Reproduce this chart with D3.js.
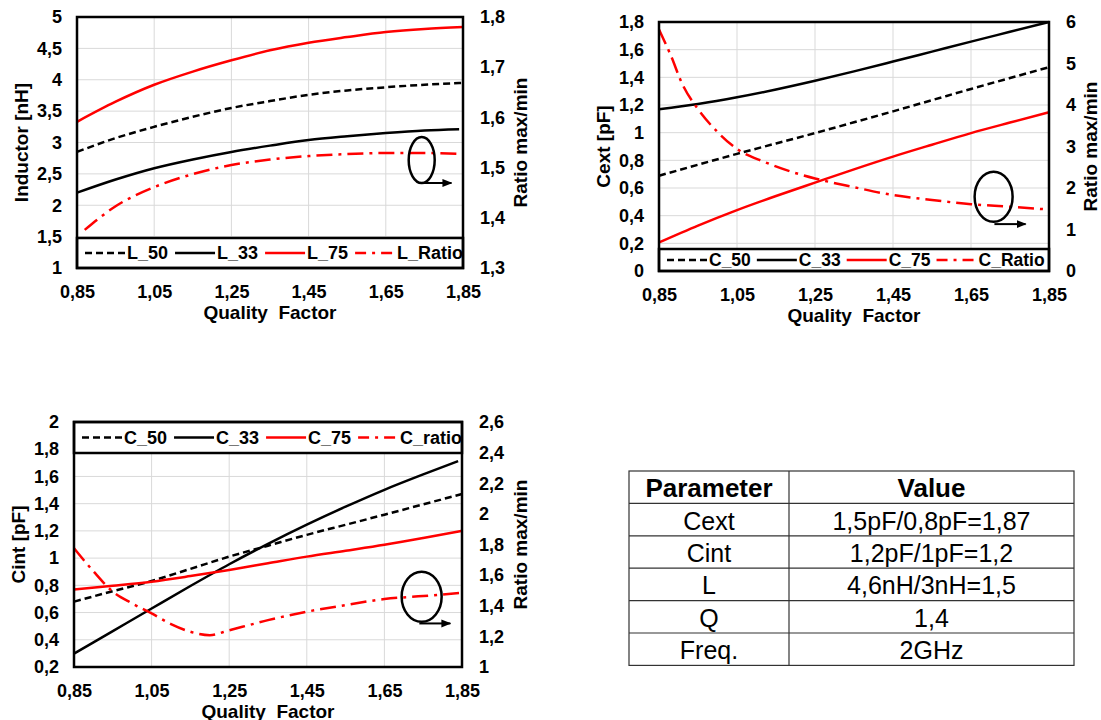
<!DOCTYPE html>
<html><head><meta charset="utf-8">
<script src="https://cdn.jsdelivr.net/npm/d3@7"></script>
<style>
body{margin:0;background:#fff}
svg{display:block}
text{font-family:"Liberation Sans",Arial,sans-serif}
</style>
</head><body>
<svg id="c" width="1101" height="720"></svg>
<script>
// ---------- DATA ----------
const qTicks = [0.85, 1.05, 1.25, 1.45, 1.65, 1.85];
const xTitle = "Quality  Factor";

// Chart 1: Inductor
const q1 = [0.85, 0.95, 1.05, 1.15, 1.25, 1.35, 1.45, 1.55, 1.65, 1.75, 1.85];
const L_50 = [2.85, 3.07, 3.25, 3.41, 3.55, 3.66, 3.76, 3.83, 3.88, 3.92, 3.95];
const q1_33 = [0.85, 0.95, 1.05, 1.15, 1.25, 1.35, 1.45, 1.55, 1.65, 1.75, 1.84];
const L_33 = [2.20, 2.41, 2.59, 2.73, 2.85, 2.95, 3.04, 3.10, 3.15, 3.19, 3.21];
const L_75 = [3.33, 3.65, 3.92, 4.13, 4.31, 4.47, 4.59, 4.68, 4.76, 4.81, 4.84];
const q1_ratio = [0.87, 0.95, 1.05, 1.15, 1.25, 1.35, 1.45, 1.55, 1.65, 1.75, 1.85];
const L_Ratio = [1.376, 1.423, 1.461, 1.487, 1.505, 1.516, 1.523, 1.527, 1.529, 1.529, 1.527];
const leftTicks1 = [1, 1.5, 2, 2.5, 3, 3.5, 4, 4.5, 5];
const rightTicks1 = [1.3, 1.4, 1.5, 1.6, 1.7, 1.8];
const legend1 = ["L_50", "L_33", "L_75", "L_Ratio"];

// Chart 2: Cext
const q2 = [0.85, 0.95, 1.05, 1.15, 1.25, 1.35, 1.45, 1.55, 1.65, 1.75, 1.85];
const Cext_50 = [0.689, 0.768, 0.847, 0.922, 0.997, 1.075, 1.154, 1.235, 1.316, 1.395, 1.473];
const Cext_33 = [1.17, 1.208, 1.256, 1.312, 1.375, 1.443, 1.514, 1.586, 1.658, 1.729, 1.80];
const Cext_75 = [0.206, 0.328, 0.440, 0.542, 0.639, 0.735, 0.827, 0.913, 0.997, 1.073, 1.147];
const q2_ratio = [0.85, 0.88, 0.91, 0.95, 1.0, 1.05, 1.12, 1.19, 1.25, 1.35, 1.45, 1.55, 1.65, 1.75, 1.85];
const Cext_Ratio = [5.82, 5.2, 4.5, 3.9, 3.35, 2.94, 2.63, 2.39, 2.23, 2.02, 1.83, 1.71, 1.61, 1.55, 1.48];
const leftTicks2 = [0, 0.2, 0.4, 0.6, 0.8, 1, 1.2, 1.4, 1.6, 1.8];
const rightTicks2 = [0, 1, 2, 3, 4, 5, 6];
const legend2 = ["C_50", "C_33", "C_75", "C_Ratio"];

// Chart 3: Cint
const q3 = [0.85, 0.95, 1.05, 1.15, 1.25, 1.35, 1.45, 1.55, 1.65, 1.75, 1.85];
const Cint_50 = [0.68, 0.757, 0.832, 0.921, 1.011, 1.091, 1.171, 1.245, 1.319, 1.395, 1.471];
const q3_33 = [0.85, 0.95, 1.05, 1.15, 1.25, 1.35, 1.45, 1.55, 1.65, 1.75, 1.84];
const Cint_33 = [0.298, 0.464, 0.630, 0.795, 0.955, 1.105, 1.246, 1.378, 1.502, 1.615, 1.712];
const Cint_75 = [0.770, 0.797, 0.827, 0.868, 0.913, 0.962, 1.011, 1.054, 1.098, 1.148, 1.201];
const q3_ratio = [0.85, 0.9, 0.95, 1.0, 1.05, 1.1, 1.15, 1.2, 1.25, 1.3, 1.35, 1.45, 1.55, 1.65, 1.75, 1.85];
const Cint_ratio = [1.776, 1.625, 1.492, 1.415, 1.35, 1.28, 1.23, 1.208, 1.24, 1.273, 1.306, 1.361, 1.404, 1.444, 1.463, 1.485];
const leftTicks3 = [0.2, 0.4, 0.6, 0.8, 1, 1.2, 1.4, 1.6, 1.8, 2];
const rightTicks3 = [1, 1.2, 1.4, 1.6, 1.8, 2, 2.2, 2.4, 2.6];
const legend3 = ["C_50", "C_33", "C_75", "C_ratio"];

// Table
const tableHeader = ["Parameter", "Value"];
const tableParams = ["Cext", "Cint", "L", "Q", "Freq."];
const tableValues = ["1,5pF/0,8pF=1,87", "1,2pF/1pF=1,2", "4,6nH/3nH=1,5", "1,4", "2GHz"];

// ---------- DRAW ----------
const svg = d3.select("#c");
const loc = d3.formatLocale({decimal: ",", thousands: ".", grouping: [3], currency: ["", ""]});
const fmt = loc.format("~g");
const RED = "#ff0000";
const styles = [
  {color: "#000", dash: "7,4"},
  {color: "#000", dash: null},
  {color: RED, dash: null},
  {color: RED, dash: "16,6,3,6"}
];
const defs = svg.append("defs");
defs.append("marker").attr("id", "arr").attr("viewBox", "0 0 10 10")
  .attr("refX", 9).attr("refY", 5).attr("markerWidth", 10).attr("markerHeight", 10)
  .attr("markerUnits", "userSpaceOnUse").attr("orient", "auto")
  .append("path").attr("d", "M0,1 L10,5 L0,9 Z").attr("fill", "#000");

function drawChart(cfg) {
  const g = svg.append("g");
  const {l, r, t, b} = cfg.box;
  const x = d3.scaleLinear().domain([0.85, 1.85]).range([l, r]);
  const yL = d3.scaleLinear().domain(d3.extent(cfg.leftTicks)).range([b, t]);
  const yR = d3.scaleLinear().domain(d3.extent(cfg.rightTicks)).range([b, t]);

  // grid
  g.append("g").selectAll("line").data(cfg.leftTicks.slice(1, -1)).join("line")
    .attr("x1", l).attr("x2", r).attr("y1", d => yL(d)).attr("y2", d => yL(d))
    .attr("stroke", "#d9d9d9").attr("stroke-width", 1);
  g.append("g").selectAll("line").data(qTicks.slice(1, -1)).join("line")
    .attr("y1", t).attr("y2", b).attr("x1", d => x(d)).attr("x2", d => x(d))
    .attr("stroke", "#d9d9d9").attr("stroke-width", 1);

  // axes
  const axL = g.append("g").attr("transform", `translate(${l},0)`)
    .call(d3.axisLeft(yL).tickValues(cfg.leftTicks).tickFormat(fmt).tickSize(0).tickPadding(15));
  const axR = g.append("g").attr("transform", `translate(${r},0)`)
    .call(d3.axisRight(yR).tickValues(cfg.rightTicks).tickFormat(fmt).tickSize(0).tickPadding(17));
  const axB = g.append("g").attr("transform", `translate(0,${b})`)
    .call(d3.axisBottom(x).tickValues(qTicks).tickFormat(fmt).tickSize(0).tickPadding(17));
  [axL, axR, axB].forEach(a => {
    a.select(".domain").remove();
    a.selectAll("text").attr("font-size", 18).attr("font-weight", "bold")
      .attr("fill", "#000").attr("font-family", '"Liberation Sans",Arial,sans-serif');
  });

  // titles
  g.append("text").attr("x", (l + r) / 2).attr("y", b + 44).attr("text-anchor", "middle")
    .attr("dominant-baseline", "central").attr("font-size", 19).attr("font-weight", "bold")
    .style("white-space", "pre").text(xTitle);
  g.append("text").attr("transform", `translate(${l - 56},${(t + b) / 2}) rotate(-90)`)
    .attr("text-anchor", "middle").attr("dominant-baseline", "central")
    .attr("font-size", 19).attr("font-weight", "bold").text(cfg.yTitle);
  g.append("text").attr("transform", `translate(${r + cfg.rtOff},${(t + b) / 2}) rotate(-90)`)
    .attr("text-anchor", "middle").attr("dominant-baseline", "central")
    .attr("font-size", 19).attr("font-weight", "bold").text("Ratio max/min");

  // series
  cfg.series.forEach((s, i) => {
    const y = s.right ? yR : yL;
    const pts = s.q.map((q, k) => [q, s.v[k]]);
    const line = d3.line().x(d => x(d[0])).y(d => y(d[1])).curve(d3.curveMonotoneX);
    g.append("path").attr("d", line(pts)).attr("fill", "none")
      .attr("stroke", styles[i].color).attr("stroke-width", 2.5)
      .attr("stroke-dasharray", styles[i].dash);
  });

  // legend
  const lh = cfg.legend.h;
  const ly0 = cfg.legend.pos === "bottom" ? b - lh : t;
  const lg = g.append("g");
  lg.append("rect").attr("x", l).attr("y", ly0).attr("width", r - l).attr("height", lh)
    .attr("fill", "#fff").attr("stroke", "#000").attr("stroke-width", 2.5);
  let cx = l + 8;
  const lyc = ly0 + lh / 2;
  cfg.legend.labels.forEach((lab, i) => {
    lg.append("line").attr("x1", cx).attr("x2", cx + 40).attr("y1", lyc).attr("y2", lyc)
      .attr("stroke", styles[i].color).attr("stroke-width", 2.5)
      .attr("stroke-dasharray", styles[i].dash === "16,6,3,6" ? "11,6,3,6" : styles[i].dash);
    const tx = lg.append("text").attr("x", cx + 42).attr("y", lyc)
      .attr("dominant-baseline", "central").attr("font-size", cfg.legend.fs).attr("font-weight", "bold")
      .text(lab);
    cx += 42 + tx.node().getComputedTextLength() + cfg.legend.gap;
  });

  // annotation
  const n = cfg.note;
  g.append("ellipse").attr("cx", x(n.q)).attr("cy", yL(n.v)).attr("rx", n.rx).attr("ry", n.ry)
    .attr("fill", "none").attr("stroke", "#000").attr("stroke-width", 2.5);
  g.append("line").attr("x1", x(n.a0)).attr("x2", x(n.a1)).attr("y1", yL(n.av)).attr("y2", yL(n.av))
    .attr("stroke", "#000").attr("stroke-width", 2).attr("marker-end", "url(#arr)");

  // frame
  g.append("rect").attr("x", l).attr("y", t).attr("width", r - l).attr("height", b - t)
    .attr("fill", "none").attr("stroke", "#000").attr("stroke-width", 2.5);
}

drawChart({
  box: {l: 77, r: 463, t: 17, b: 268},
  leftTicks: leftTicks1, rightTicks: rightTicks1,
  yTitle: "Inductor [nH]", rtOff: 57,
  series: [
    {q: q1, v: L_50}, {q: q1_33, v: L_33}, {q: q1, v: L_75}, {q: q1_ratio, v: L_Ratio, right: true}
  ],
  legend: {pos: "bottom", h: 30, labels: legend1, fs: 18, gap: 7},
  note: {q: 1.743, v: 2.72, rx: 13, ry: 23, a0: 1.746, a1: 1.82, av: 2.355}
});

drawChart({
  box: {l: 659, r: 1049, t: 22, b: 271},
  leftTicks: leftTicks2, rightTicks: rightTicks2,
  yTitle: "Cext [pF]", rtOff: 41,
  series: [
    {q: q2, v: Cext_50}, {q: q2, v: Cext_33}, {q: q2, v: Cext_75}, {q: q2_ratio, v: Cext_Ratio, right: true}
  ],
  legend: {pos: "bottom", h: 22, labels: legend2, fs: 17.5, gap: 6},
  note: {q: 1.708, v: 0.537, rx: 19, ry: 25, a0: 1.71, a1: 1.79, av: 0.339}
});

drawChart({
  box: {l: 74, r: 462, t: 422, b: 667},
  leftTicks: leftTicks3, rightTicks: rightTicks3,
  yTitle: "Cint [pF]", rtOff: 58,
  series: [
    {q: q3, v: Cint_50}, {q: q3_33, v: Cint_33}, {q: q3, v: Cint_75}, {q: q3_ratio, v: Cint_ratio, right: true}
  ],
  legend: {pos: "top", h: 31, labels: legend3, fs: 18, gap: 7},
  note: {q: 1.746, v: 0.716, rx: 20, ry: 25, a0: 1.74, a1: 1.82, av: 0.52}
});

// table
const T = {l: 629, r: 1074, mid: 789, t: 471, rowH: 32.4};
const tg = svg.append("g");
const rows = [tableHeader].concat(tableParams.map((p, i) => [p, tableValues[i]]));
const nR = rows.length;
tg.append("rect").attr("x", T.l).attr("y", T.t).attr("width", T.r - T.l).attr("height", T.rowH * nR)
  .attr("fill", "#fff").attr("stroke", "#333").attr("stroke-width", 1.2);
tg.selectAll("line.h").data(d3.range(1, nR)).join("line")
  .attr("x1", T.l).attr("x2", T.r).attr("y1", d => T.t + d * T.rowH).attr("y2", d => T.t + d * T.rowH)
  .attr("stroke", "#333").attr("stroke-width", 1.2);
tg.append("line").attr("x1", T.mid).attr("x2", T.mid).attr("y1", T.t).attr("y2", T.t + T.rowH * nR)
  .attr("stroke", "#333").attr("stroke-width", 1.2);
rows.forEach((row, i) => {
  [0, 1].forEach(c => {
    tg.append("text")
      .attr("x", c === 0 ? (T.l + T.mid) / 2 : (T.mid + T.r) / 2)
      .attr("y", T.t + (i + 0.5) * T.rowH + 1)
      .attr("text-anchor", "middle").attr("dominant-baseline", "central")
      .attr("font-size", i === 0 ? 26 : 25).attr("font-weight", i === 0 ? "bold" : "normal")
      .attr("fill", "#000").text(row[c]);
  });
});
</script>
</body></html>
